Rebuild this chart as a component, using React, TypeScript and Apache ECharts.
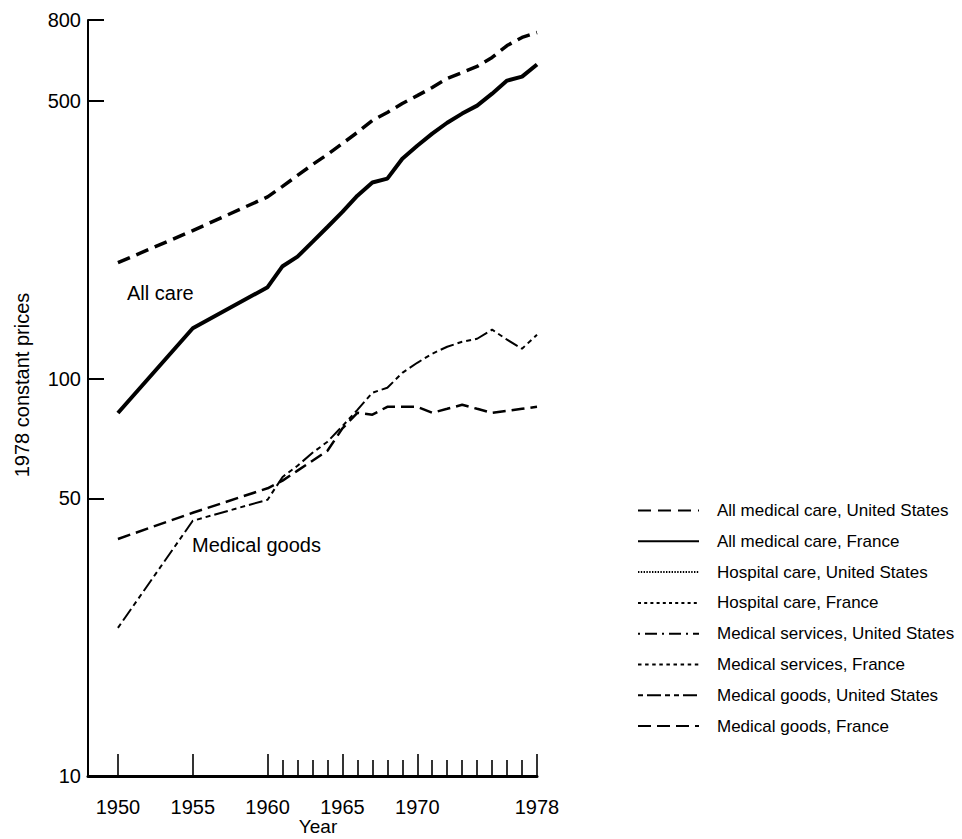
import React, { useEffect, useRef } from 'react';
import * as echarts from 'echarts';

const years = [1950, 1955, 1960, 1961, 1962, 1963, 1964, 1965, 1966, 1967, 1968, 1969, 1970, 1971, 1972, 1973, 1974, 1975, 1976, 1977, 1978];
const allCareUS = [196, 236, 287, 305, 325, 346, 367, 391, 417, 447, 468, 493, 516, 541, 570, 590, 611, 644, 690, 723, 744];
const allCareFR = [82, 134, 170, 192, 203, 221, 241, 263, 289, 312, 319, 358, 386, 414, 441, 465, 487, 522, 563, 576, 618];
const goodsUS = [23.6, 43.9, 49.6, 56.6, 60.4, 65.1, 69.4, 76, 83.5, 92.2, 94.9, 103.5, 109.7, 115.6, 120.4, 123.9, 126.1, 132.9, 125.4, 119, 129.1];
const goodsFR = [39.5, 46, 53, 55.4, 58.7, 62.2, 65.9, 75, 82.1, 81.2, 85, 85, 85, 82.1, 84, 86, 84, 82.1, 83, 84, 85];

const xLabelYears = [1950, 1955, 1960, 1965, 1970, 1978];
const xMinorYears = [1961, 1962, 1963, 1964, 1966, 1967, 1968, 1969, 1971, 1972, 1973, 1974, 1975, 1976, 1977];
const yLabelValues = [10, 50, 100, 500, 800];
const yTickValues = [50, 100, 500, 800];

const seriesNames = [
  'All medical care, United States',
  'All medical care, France',
  'Hospital care, United States',
  'Hospital care, France',
  'Medical services, United States',
  'Medical services, France',
  'Medical goods, United States',
  'Medical goods, France',
];

const FONT = '"Liberation Sans", Arial, Helvetica, sans-serif';

function pairs(vals: number[]) {
  return years.map((y, i) => [y, vals[i]]);
}

export default function App() {
  const ref = useRef<HTMLDivElement>(null);
  useEffect(() => {
    const chart = echarts.init(ref.current!, null, { renderer: 'svg' });
    const mk = (name: string, data: number[][], width: number, type: any) => ({
      name,
      type: 'line',
      data,
      symbol: 'none',
      xAxisIndex: 0,
      yAxisIndex: 0,
      itemStyle: { color: '#000' },
      lineStyle: { color: '#000', width, type, cap: 'butt' },
      z: 3,
    });
    const option: any = {
      animation: false,
      backgroundColor: '#fff',
      textStyle: { fontFamily: FONT, color: '#000' },
      grid: { left: 88, top: 20, width: 449, height: 756, containLabel: false, outerBoundsMode: 'none' },
      xAxis: [
        {
          type: 'value',
          min: 1948,
          max: 1978,
          position: 'bottom',
          name: 'Year',
          nameLocation: 'middle',
          nameGap: 41,
          nameMoveOverlap: false,
          nameTextStyle: { fontFamily: FONT, fontSize: 19, color: '#000', padding: [0, 0, 0, 11] },
          axisLine: { show: true, lineStyle: { color: '#000', width: 3 } },
          axisTick: { show: true, inside: true, length: 22, customValues: xLabelYears, lineStyle: { color: '#000', width: 1.6 } },
          axisLabel: { show: true, customValues: xLabelYears, margin: 21, fontSize: 20, fontFamily: FONT, color: '#000', formatter: (v: number) => String(v) },
          splitLine: { show: false },
        },
        {
          type: 'value',
          min: 1948,
          max: 1978,
          position: 'bottom',
          axisLine: { show: false },
          axisTick: { show: true, inside: true, length: 16, customValues: xMinorYears, lineStyle: { color: '#000', width: 1.6 } },
          axisLabel: { show: false },
          splitLine: { show: false },
        },
      ],
      yAxis: {
        type: 'log',
        logBase: 10,
        min: 10,
        max: 800,
        name: '1978 constant prices',
        nameLocation: 'middle',
        nameGap: 56,
        nameMoveOverlap: false,
        nameTextStyle: { fontFamily: FONT, fontSize: 20, color: '#000', padding: [0, 0, 0, 26] },
        axisLine: { show: true, lineStyle: { color: '#000', width: 2 } },
        axisTick: { show: true, inside: true, length: 16, customValues: yTickValues, lineStyle: { color: '#000', width: 2 } },
        axisLabel: { show: true, customValues: yLabelValues, margin: 7, fontSize: 20, fontFamily: FONT, color: '#000', formatter: (v: number) => String(Math.round(v)) },
        splitLine: { show: false },
        minorTick: { show: false },
      },
      legend: {
        orient: 'vertical',
        left: 637,
        top: 502,
        padding: 0,
        itemWidth: 61,
        itemHeight: 14,
        itemGap: 13.8,
        selectedMode: false,
        data: seriesNames,
        itemStyle: { opacity: 0 },
        textStyle: { fontFamily: FONT, fontSize: 17, color: '#000', padding: [0, 0, 0, 13] },
      },
      graphic: [
        { type: 'text', left: 127, top: 283, style: { text: 'All care', font: `20px ${FONT}`, fill: '#000' } },
        { type: 'text', left: 192, top: 535, style: { text: 'Medical goods', font: `20px ${FONT}`, fill: '#000' } },
      ],
      series: [
        mk(seriesNames[0], pairs(allCareUS), 3.5, [13, 7]),
        mk(seriesNames[1], pairs(allCareFR), 4, 'solid'),
        mk(seriesNames[2], [], 5, [1.4, 1.4]),
        mk(seriesNames[3], [], 3, [3, 3.2]),
        mk(seriesNames[4], [], 2, [2, 5, 12, 5]),
        mk(seriesNames[5], [], 4, [3.5, 3.6]),
        mk(seriesNames[6], pairs(goodsUS), 2, [5, 4, 14, 4, 5, 4]),
        mk(seriesNames[7], pairs(goodsFR), 2.5, [13, 6]),
      ],
    };
    chart.setOption(option);
    return () => chart.dispose();
  }, []);
  return <div ref={ref} style={{ position: 'absolute', left: 0, top: 0, width: 962, height: 839, background: '#fff' }} />;
}
